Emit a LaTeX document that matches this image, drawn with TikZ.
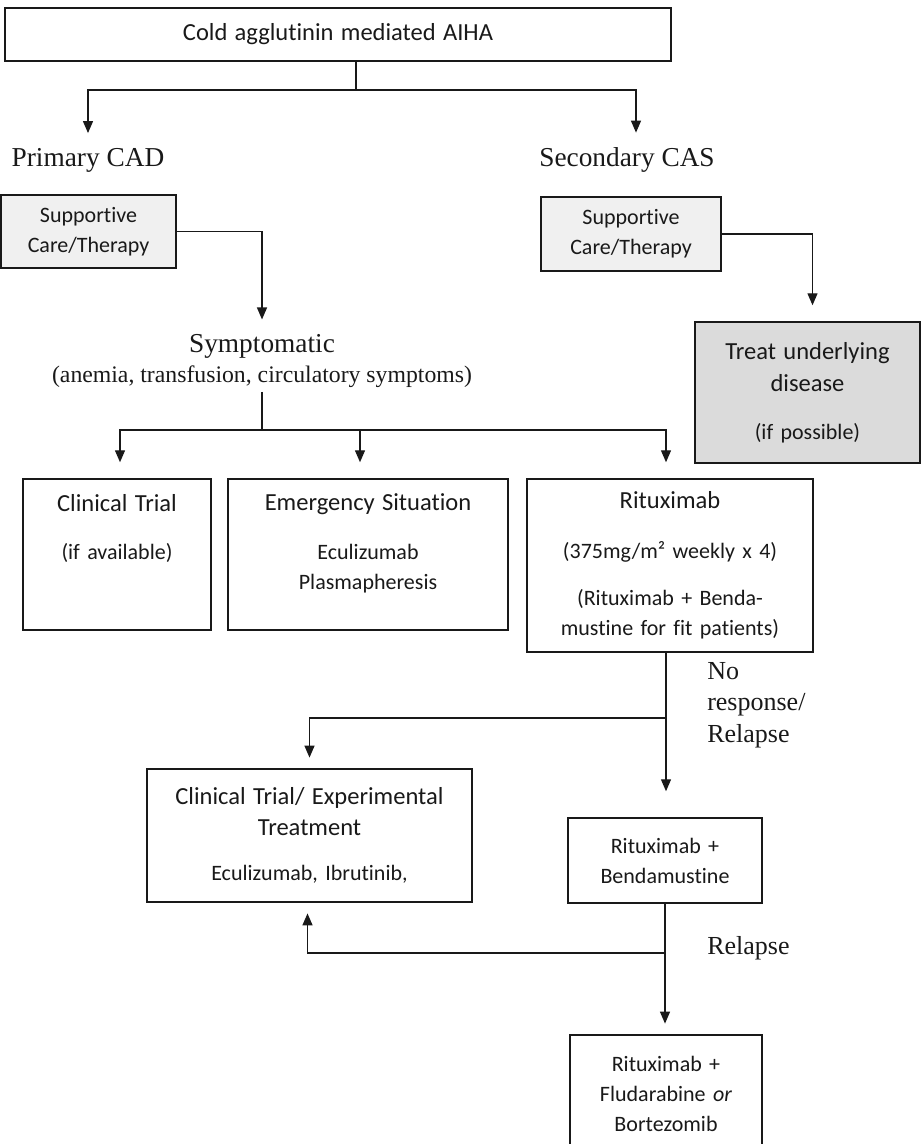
\documentclass[tikz,border=0pt]{standalone}
\usepackage{fontspec}
\setmainfont{Liberation Serif}
\newfontfamily\calfont[Ligatures=NoCommon]{Carlito}
\usetikzlibrary{positioning,arrows.meta}
\newcommand{\hd}[1]{{\fontsize{18.4}{22.5}\selectfont #1}}

\begin{document}
\begin{tikzpicture}[x=0.75pt,y=-0.75pt,
    box/.style={draw=black!90, line width=1.1pt, inner sep=0pt, align=center, text=black!90,
        font=\calfont\fontsize{16.5}{22.5}\selectfont},
    lbl/.style={inner sep=3pt, align=center, text=black!90, font=\fontsize{20.5}{22.5}\selectfont},
    note/.style={inner sep=0pt, align=left, text=black!90, font=\fontsize{19.5}{23.6}\selectfont},
    arr/.style={draw=black!90, line width=1pt, -{Triangle[length=9pt,width=7.5pt]}, shorten >=8pt},
    ln/.style={draw=black!90, line width=1pt}]
    \useasboundingbox (0,0) rectangle (922,1144);

    % top of the tree
    \node[box, text width=499.5pt, minimum height=39.75pt] (aiha) at (338,34.5) {\hd{Cold agglutinin mediated AIHA}};
    \node[lbl] (cad) at (88,160) {Primary CAD};
    \node[lbl] (cas) at (627,160) {Secondary CAS};

    \node[box, fill=black!6, text width=131.25pt, minimum height=54.75pt] (supA) at (88.5,231.5) {Supportive\\Care/Therapy};
    \node[box, fill=black!6, text width=135pt, minimum height=55.5pt] (supB) at (631,234) {Supportive\\Care/Therapy};
    \node[box, fill=black!14, text width=168.75pt, minimum height=105.75pt] (treat) at (807.5,392.5)
        {\hd{Treat underlying}\\[1.5pt]\hd{disease}\\[13.5pt](if possible)};

    \node[lbl] (symp) at (262,361) {Symptomatic\\{\fontsize{17.8}{22.5}\selectfont(anemia, transfusion, circulatory symptoms)}};

    % first line treatments
    \node[box, text width=141pt, minimum height=113.25pt] (ctrial) at (117,554.5)
        {\hd{Clinical Trial}\\[13.5pt](if available)\\[19.2pt]\mbox{}};
    \node[box, text width=210pt, minimum height=113.25pt] (emerg) at (368,554.5)
        {\hd{Emergency Situation}\\[14.25pt]Eculizumab\\Plasmapheresis\\[-3.3pt]\mbox{}};
    \node[box, text width=214.5pt, minimum height=129.75pt] (ritux) at (670,565.5)
        {\hd{Rituximab}\\[15pt](375mg/m² weekly x 4)\\[12.75pt](Rituximab + Benda-\\mustine for fit patients)};

    % relapse
    \node[box, text width=243.75pt, minimum height=99.75pt] (ctexp) at (309.5,835.5)
        {\hd{Clinical Trial/ Experimental}\\[0.75pt]\hd{Treatment}\\[11.25pt]Eculizumab, Ibrutinib,};
    \node[box, text width=145.5pt, minimum height=63.75pt] (rb) at (665,860.5) {Rituximab +\\Bendamustine};
    \node[box, text width=144pt, minimum height=87.75pt] (rf) at (666,1093.5) {Rituximab +\\Fludarabine \textit{or}\\Bortezomib};

    \node[note, anchor=west] (nores) at (707,705) {No\\response/\\Relapse};
    \node[note, anchor=west] (rel) at (707,948) {Relapse};

    % connectors
    \coordinate (s1) at (356,90);
    \draw[ln] (aiha.south -| s1) -- (s1);
    \draw[arr] (s1) -| (cad.north);
    \draw[arr] (s1) -| ([xshift=6.75pt]cas.north);

    \draw[arr] (supA.east) -| (symp.north);
    \draw[arr, shorten >=12pt] (supB.east) -| ([xshift=3.75pt]treat.north);

    \coordinate (s2) at (262,430);
    \draw[ln] (symp.south) -- (s2);
    \draw[arr, shorten >=12pt] (s2) -| ([xshift=2.25pt]ctrial.north);
    \draw[arr, shorten >=12pt] (s2) -| ([xshift=-6pt]emerg.north);
    \draw[arr, shorten >=12pt] (s2) -| ([xshift=-3pt]ritux.north);

    \coordinate (s3) at (666,718);
    \draw[ln] (ritux.south -| s3) -- (s3);
    \draw[arr, shorten >=19.5pt] (s3) -- (s3 |- rb.north);
    \draw[arr] (s3) -| (ctexp.north);

    \coordinate (s4) at (665,953);
    \draw[ln] (rb.south) -- (s4);
    \draw[arr] (s4) -- (s4 |- rf.north);
    \draw[arr] (s4) -| ([xshift=-1.5pt]ctexp.south);
\end{tikzpicture}
\end{document}
